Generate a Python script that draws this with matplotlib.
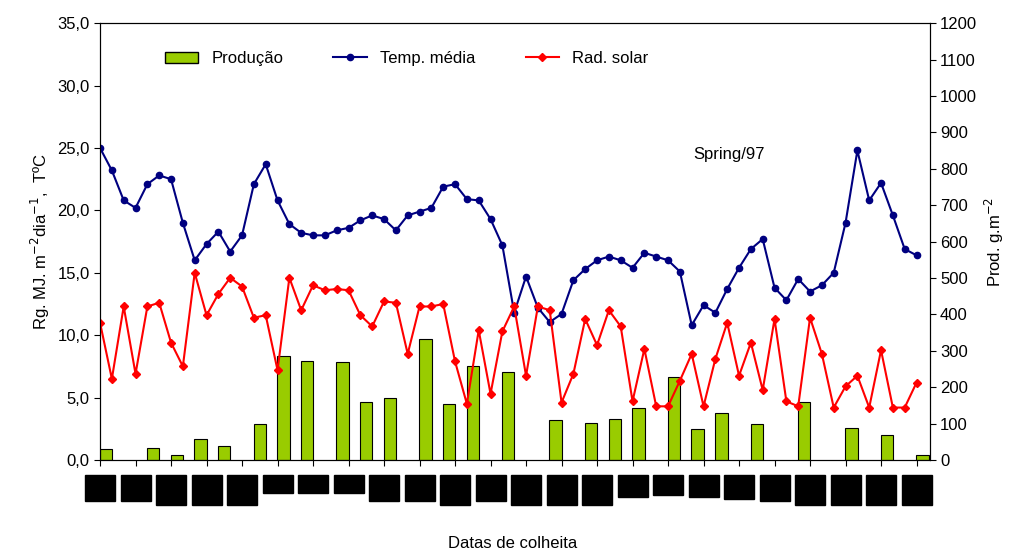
import matplotlib.pyplot as plt
import numpy as np
from matplotlib.patches import Rectangle
from matplotlib.lines import Line2D

plt.rcParams['font.family'] = ['Liberation Sans', 'DejaVu Sans']

# temperatura media (C) por data
temp = [25.0, 23.2, 20.8, 20.2, 22.1, 22.8, 22.5, 19.0, 16.0, 17.3, 18.3, 16.7, 18.0, 22.1,
        23.7, 20.8, 18.9, 18.2, 18.0, 18.0, 18.4, 18.6, 19.2, 19.6, 19.3, 18.4, 19.6, 19.9,
        20.2, 21.9, 22.1, 20.9, 20.8, 19.3, 17.2, 11.8, 14.7, 12.2, 11.05, 11.7, 14.4, 15.3,
        16.0, 16.3, 16.0, 15.4, 16.6, 16.3, 16.0, 15.1, 10.8, 12.4, 11.8, 13.7, 15.4, 16.9,
        17.7, 13.8, 12.8, 14.5, 13.5, 14.0, 15.0, 19.0, 24.8, 20.8, 22.2, 19.6, 16.9, 16.4]
# radiacao solar (MJ m-2 dia-1)
rad = [11.0, 6.5, 12.3, 6.9, 12.3, 12.6, 9.4, 7.5, 15.0, 11.6, 13.3, 14.6, 13.9, 11.4,
       11.6, 7.2, 14.6, 12.0, 14.0, 13.6, 13.7, 13.6, 11.6, 10.7, 12.7, 12.6, 8.5, 12.3,
       12.3, 12.5, 7.9, 4.5, 10.4, 5.3, 10.3, 12.3, 6.75, 12.3, 12.0, 4.6, 6.9, 11.3,
       9.2, 12.0, 10.7, 4.7, 8.9, 4.3, 4.3, 6.35, 8.5, 4.3, 8.1, 11.0, 6.75, 9.4,
       5.6, 11.3, 4.7, 4.3, 11.4, 8.5, 4.2, 5.9, 6.75, 4.2, 8.8, 4.2, 4.2, 6.2]
# producao (g m-2), posicao em indice de data
prod_pos = [0.5, 4.5, 6.5, 8.5, 10.5, 13.5, 15.5, 17.5, 20.5, 22.5, 24.5, 27.5, 29.5, 31.5,
            34.5, 38.5, 41.5, 43.5, 45.5, 48.5, 50.5, 52.5, 55.5, 59.5, 63.5, 66.5, 69.5]
prod = [29, 34, 14, 59, 38, 98, 287, 272, 268, 158, 169, 331, 154, 257,
        243, 110, 102, 113, 142, 227, 84, 128, 98, 158, 89, 68, 13]
# alturas dos rotulos de data (ilegiveis no original)
label_h = [26, 26, 30, 30, 30, 18, 18, 18, 26, 26, 30, 26, 30, 30, 30, 22, 20, 22, 24, 26, 30, 30, 30, 30]

fig = plt.figure(figsize=(10.26, 5.52), dpi=100)
ax = fig.add_axes([0.0975, 0.1667, 0.8085, 0.7913])
ax2 = ax.twinx()
ax.set_zorder(2); ax.patch.set_visible(False)

ax2.bar(prod_pos, prod, width=1.05, color='#99cc00', edgecolor='black', linewidth=0.8)
ax2.set_ylim(0, 1200)
ax2.set_yticks(range(0, 1201, 100))
ax2.set_ylabel('Prod. g.m$^{-2}$', fontsize=12)

x = np.arange(len(temp))
ax.plot(x, temp, color='#000080', marker='o', markersize=4.5, linewidth=1.5)
ax.plot(x, rad, color='#ff0000', marker='D', markersize=4, linewidth=1.5)
ax.set_ylim(0, 35)
ax.set_xlim(0, 70.1)
ax.set_yticks(np.arange(0, 35.1, 5))
ax.set_yticklabels([f'{v:.1f}'.replace('.', ',') for v in np.arange(0, 35.1, 5)])
ax.set_ylabel('Rg. MJ. m$^{-2}$dia$^{-1}$,  T\u00baC', fontsize=12)
ax.set_xticks(range(0, 70, 3))
ax.set_xticklabels([])
fig.text(0.5, (552 - 543) / 552, 'Datas de colheita', fontsize=12, ha='center', va='center')
for a in (ax, ax2):
    a.tick_params(labelsize=12, length=4)

ax.text(0.715, 0.69, 'Spring/97', transform=ax.transAxes, fontsize=12)

# blocos dos rotulos de data
for i, h in zip(range(0, 70, 3), label_h):
    xf = (100 + i * 11.84) / 1026
    w = 30 / 1026
    fig.patches.append(Rectangle((xf - w / 2, (552 - 475 - h) / 552), w, h / 552,
                                 transform=fig.transFigure, color='black'))

handles = [Rectangle((0, 0), 1, 1, facecolor='#99cc00', edgecolor='black'),
           Line2D([], [], color='#000080', marker='o', markersize=4.5),
           Line2D([], [], color='#ff0000', marker='D', markersize=4)]
ax.legend(handles, ['Produção', 'Temp. média', 'Rad. solar'], ncol=3, frameon=False,
          loc='upper left', bbox_to_anchor=(0.06, 0.97), fontsize=12, columnspacing=3)

fig.savefig('out.png')
